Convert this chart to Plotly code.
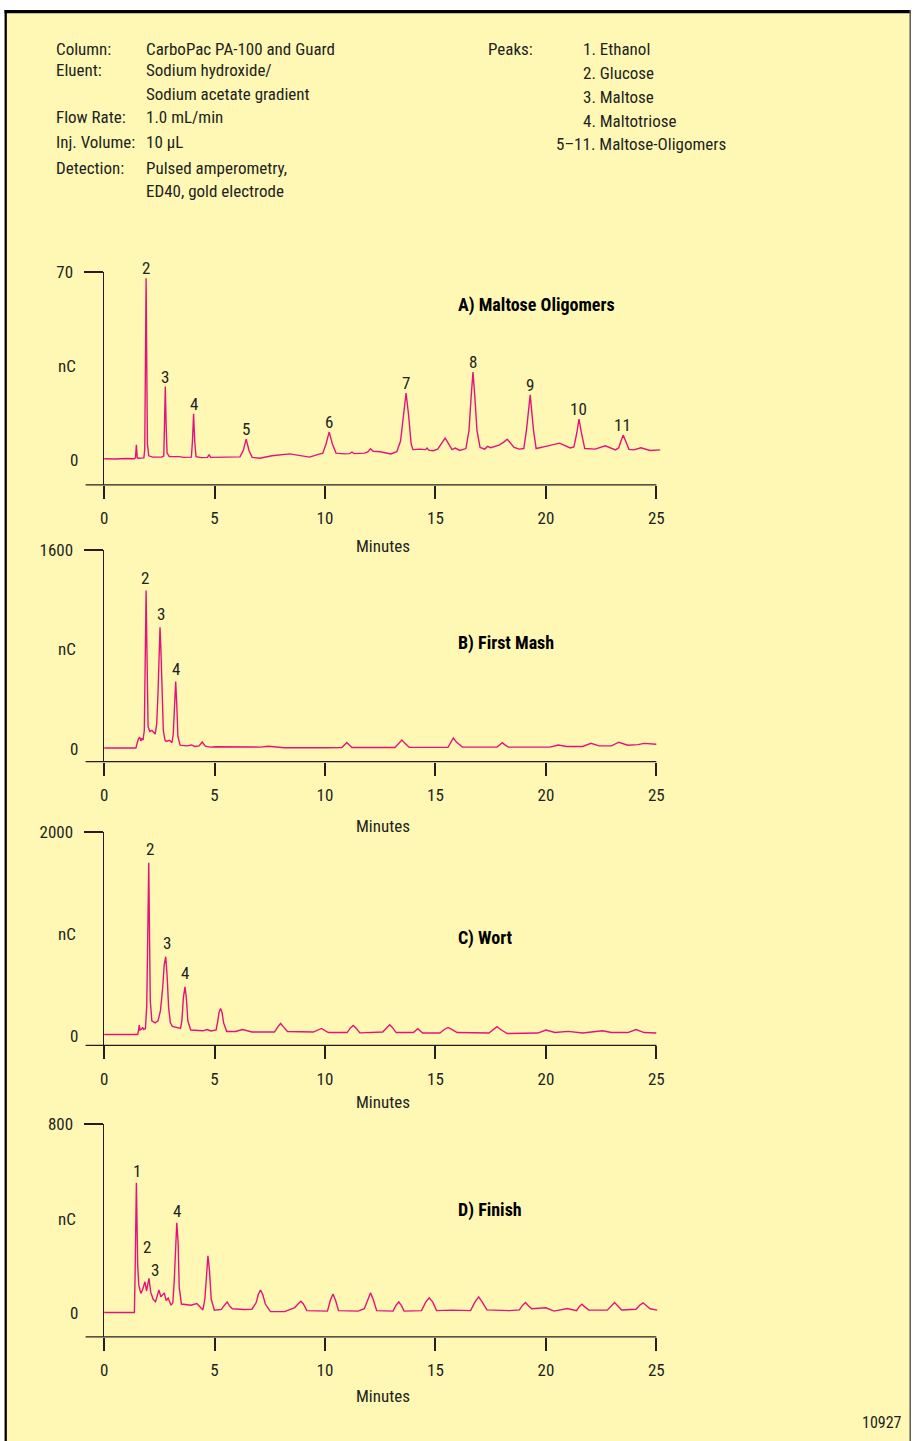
import plotly.graph_objects as go

W, H = 915, 1441
FONT = "Liberation Sans Narrow, Arial Narrow, Roboto Condensed, DejaVu Sans Condensed, Liberation Sans, sans-serif"
INK = "#231F20"
TRACE = "#E4137B"
BG = "#FFF8B5"

# ---------------- data ----------------
x_ticks = [0, 5, 10, 15, 20, 25]

A_min = [0, 0.5, 1.0, 1.37, 1.42, 1.46, 1.50, 1.56, 1.80, 1.84, 1.87, 1.90, 1.93, 1.96, 2.02, 2.2, 2.6, 2.70, 2.73,
         2.77, 2.81, 2.85, 2.95, 3.4, 3.6, 3.95, 4.00, 4.05, 4.10, 4.16, 4.4, 4.68, 4.75, 4.82, 5.5, 6.15, 6.30, 6.43,
         6.56, 6.70, 7.05, 7.6, 8.4, 8.9, 9.3, 9.7, 9.90, 10.05, 10.19, 10.33, 10.50, 10.9, 11.12, 11.22, 11.32, 11.8,
         11.95, 12.06, 12.18, 12.5, 12.98, 13.25, 13.42, 13.56, 13.67, 13.78, 13.90, 13.98, 14.3, 14.55, 14.62, 14.70,
         14.9, 15.1, 15.3, 15.44, 15.58, 15.75, 15.9, 16.1, 16.38, 16.52, 16.62, 16.70, 16.78, 16.88, 17.02, 17.23,
         17.36, 17.5, 17.88, 18.08, 18.25, 18.42, 18.56, 18.8, 19.0, 19.12, 19.29, 19.44, 19.56, 20.0, 20.62, 21.1,
         21.27, 21.40, 21.50, 21.61, 21.76, 22.23, 22.69, 23.15, 23.30, 23.40, 23.50, 23.61, 23.76, 23.98, 24.3,
         24.72, 25.18]
A_nC = [0.4, 0.3, 0.5, 0.4, 0.8, 5.6, 0.8, 0.6, 0.7, 4, 36, 67.7, 36, 6, 1.5, 1.0, 1.0, 1.4, 12,
        27.3, 12, 2.5, 1.2, 1.2, 0.9, 1.0, 7, 17.2, 7, 1.2, 0.8, 0.9, 1.9, 0.9, 1.0, 1.1, 3.5, 7.7,
        3.5, 0.9, 0.6, 1.5, 2.2, 1.5, 1.0, 2.0, 2.5, 6, 10.4, 6, 2.5, 2.2, 2.3, 2.9, 2.3, 2.5,
        3.0, 4.1, 3.2, 3.0, 2.2, 3.0, 7, 17, 24.9, 17, 6, 3.8, 4.0, 3.8, 4.4, 3.6,
        3.4, 4.0, 6.5, 8.1, 6.2, 3.8, 4.4, 3.5, 4.2, 11, 24, 32.7, 24, 11, 4.6, 4.0,
        5.0, 4.5, 5.5, 6.5, 7.7, 6.0, 4.6, 4.0, 4.2, 11, 24.2, 11, 4.2, 5.0, 6.2, 4.4,
        4.8, 10, 15.2, 10, 4.2, 4.0, 5.2, 3.7, 4.5, 7, 9.2, 7, 3.9, 3.7, 4.5,
        3.5, 3.7]

B_min = [0, 1.44, 1.50, 1.55, 1.61, 1.66, 1.71, 1.76, 1.82, 1.85, 1.88, 1.90, 1.92, 1.95, 1.99, 2.07, 2.16, 2.31,
         2.38, 2.44, 2.49, 2.53, 2.57, 2.62, 2.68, 2.75, 2.81, 2.96, 3.07, 3.13, 3.18, 3.24, 3.29, 3.34, 3.44, 3.74,
         3.96, 4.10, 4.30, 4.44, 4.58, 4.80, 5.03, 6.32, 7.1, 7.43, 7.8, 8.17, 10.02, 10.76, 10.9, 10.98, 11.08,
         11.22, 13.17, 13.32, 13.48, 13.62, 13.81, 15.57, 15.70, 15.81, 15.95, 16.22, 17.79, 17.93, 18.03, 18.13,
         18.30, 20.19, 20.56, 20.93, 21.67, 22.04, 22.41, 22.97, 23.3, 23.71, 24.17, 24.45, 25.0]
B_nC = [8, 8, 50, 80, 94, 65, 85, 70, 150, 500, 1000, 1273, 1000, 500, 180, 140, 150, 120,
        200, 450, 800, 978, 800, 400, 150, 75, 60, 70, 50, 120, 350, 541, 350, 100, 30, 25,
        32, 20, 25, 56, 22, 15, 18, 13, 15, 22, 15, 10, 10, 12, 35, 51, 35,
        12, 12, 45, 72, 45, 14, 13, 60, 88, 55, 15, 15, 38, 51, 35,
        15, 15, 32, 20, 20, 45, 25, 25, 54, 30, 35, 45, 38]

C_min = [0, 1.52, 1.56, 1.59, 1.63, 1.70, 1.74, 1.79, 1.87, 1.93, 1.97, 2.02, 2.06, 2.09, 2.16, 2.31, 2.44, 2.55,
         2.65, 2.72, 2.79, 2.85, 2.92, 3.0, 3.09, 3.46, 3.52, 3.59, 3.66, 3.72, 3.79, 3.92, 4.47, 4.66, 4.84, 5.07,
         5.14, 5.20, 5.27, 5.34, 5.41, 5.55, 5.95, 6.27, 6.69, 7.71, 7.88, 7.99, 8.10, 8.30, 9.47, 9.84, 10.15,
         11.0, 11.15, 11.28, 11.40, 11.58, 12.61, 12.80, 12.93, 13.05, 13.22, 14.0, 14.2, 14.42, 15.2, 15.40, 15.57,
         15.74, 15.98, 17.42, 17.65, 17.79, 17.95, 18.25, 19.64, 20.0, 20.41, 21.0, 21.67, 22.56, 22.97, 23.71,
         24.08, 24.45, 25.0]
C_nC = [16, 16, 60, 108, 60, 70, 85, 65, 75, 300, 900, 1702, 900, 350, 150, 130, 150, 250,
        470, 700, 779, 600, 280, 130, 95, 75, 150, 380, 484, 380, 150, 60, 52, 65, 50, 60,
        140, 230, 272, 230, 130, 45, 45, 65, 40, 40, 95, 124, 95, 45, 40, 75, 35,
        35, 80, 105, 80, 32, 40, 85, 111, 85, 35, 35, 72, 30, 30, 65, 85,
        65, 35, 30, 70, 92, 65, 25, 30, 59, 35, 46, 30, 52, 35, 35,
        65, 35, 30]

D_min = [0, 1.37, 1.40, 1.43, 1.46, 1.49, 1.52, 1.57, 1.66, 1.74, 1.85, 1.92, 2.03, 2.11, 2.22, 2.33, 2.48, 2.57,
         2.72, 2.81, 2.90, 3.03, 3.11, 3.17, 3.23, 3.29, 3.35, 3.40, 3.50, 3.92, 4.2, 4.47, 4.56, 4.63, 4.70, 4.77,
         4.85, 4.99, 5.31, 5.45, 5.57, 5.69, 5.81, 6.32, 6.69, 6.88, 6.98, 7.08, 7.18, 7.30, 7.53, 8.17, 8.63, 8.80,
         8.91, 9.02, 9.18, 10.11, 10.24, 10.36, 10.48, 10.61, 11.50, 11.78, 11.94, 12.06, 12.18, 12.34, 13.08, 13.22,
         13.34, 13.46, 13.58, 14.37, 14.56, 14.72, 14.88, 15.05, 15.75, 16.59, 16.80, 16.96, 17.12, 17.33, 18.34,
         18.8, 18.95, 19.08, 19.22, 19.36, 20.0, 20.37, 20.97, 21.39, 21.52, 21.63, 21.76, 21.95, 22.78, 22.98,
         23.11, 23.26, 23.43, 24.08, 24.26, 24.4, 24.56, 24.72, 25.04]
D_nC = [4, 4, 150, 400, 552, 380, 200, 120, 85, 100, 134, 95, 148, 90, 60, 50, 99, 70,
        87, 55, 65, 35, 45, 130, 300, 383, 300, 110, 40, 35, 42, 15, 60, 180, 244, 180,
        60, 14, 17, 35, 49, 30, 20, 17, 18, 45, 80, 99, 80, 40, 8, 8, 25, 42,
        52, 40, 12, 10, 55, 82, 55, 12, 10, 20, 60, 87, 60, 12, 10, 35,
        49, 33, 10, 12, 48, 66, 48, 12, 14, 12, 50, 70, 48, 15, 12,
        15, 35, 46, 32, 20, 24, 10, 21, 12, 30, 39, 28, 14, 14, 36,
        46, 32, 15, 18, 36, 45, 33, 20, 14]

A_labels = ["2", "3", "4", "5", "6", "7", "8", "9", "10", "11"]
A_label_min = [1.90, 2.77, 4.05, 6.43, 10.19, 13.67, 16.70, 19.29, 21.48, 23.48]
A_label_nC = [67.7, 27.3, 17.2, 7.7, 10.4, 24.9, 32.7, 24.2, 15.2, 9.2]
B_labels = ["2", "3", "4"]
B_label_min = [1.86, 2.57, 3.27]
B_label_nC = [1273, 978, 541]
C_labels = ["2", "3", "4"]
C_label_min = [2.08, 2.85, 3.66]
C_label_nC = [1702, 779, 484]
D_labels = ["1", "2", "3", "4"]
D_label_min = [1.48, 1.94, 2.31, 3.29]
D_label_nC = [552, 230, 135, 383]

titles = ["A) Maltose Oligomers", "B) First Mash", "C) Wort", "D) Finish"]
y_tops = [70, 1600, 2000, 800]

header_left = [("Column:", 49), ("Eluent:", 70.5), ("Flow Rate:", 117.5), ("Inj. Volume:", 142.5), ("Detection:", 168)]
header_vals = [("CarboPac PA-100 and Guard", 49), ("Sodium hydroxide/", 70.5), ("Sodium acetate gradient", 94),
               ("1.0 mL/min", 117.5), ("10 µL", 142.5), ("Pulsed amperometry,", 168), ("ED40, gold electrode", 191.7)]
peak_list = [("1. Ethanol", 581, 49.3), ("2. Glucose", 581, 73.3), ("3. Maltose", 581, 97.3),
             ("4. Maltotriose", 581, 121), ("5–11. Maltose-Oligomers", 554, 144.3)]

# ---------------- layout geometry (pixels of the target picture) ----------------
# the photographed page shows up slightly inset; positions are pre-compensated for that
OX, OY, SX, SY = 4.5, 10.4, 0.990, 0.9926


def fx(p):
    return min(max((p - OX) / SX, 0.0), W) / W


def fy(p):
    return 1 - min(max((p - OY) / SY, 0.0), H) / H


X_LEFT, X_RIGHT = 104.5, 660.4      # x-axis domain (0 .. 25.2 min)
X_MAX = 25.2
AXIS_L, AXIS_R = 86, 656            # drawn x-axis line extent
panel_top_px = [272.3, 550, 832.3, 1124]
panel_axis_px = [485, 761.7, 1045.3, 1336.7]
panel_ymin = [-9.32, -102, -91, -99]
title_y_px = [305.7, 642.7, 937.7, 1210]
minutes_y_px = [546, 826, 1101.7, 1396]
label_shift = [10, 13, 13.5, 12]

series = [(A_min, A_nC), (B_min, B_nC), (C_min, C_nC), (D_min, D_nC)]
labels = [(A_labels, A_label_min, A_label_nC), (B_labels, B_label_min, B_label_nC),
          (C_labels, C_label_min, C_label_nC), (D_labels, D_label_min, D_label_nC)]

fig = go.Figure()
annotations = []
shapes = []

# page background + border
shapes.append(dict(type="rect", xref="paper", yref="paper", x0=fx(6), x1=1, y0=0, y1=1,
                   fillcolor=BG, line=dict(width=0), layer="below"))
shapes.append(dict(type="line", xref="paper", yref="paper", x0=fx(5), x1=1, y0=1 - 1.6 / H, y1=1 - 1.6 / H,
                   line=dict(color="#000000", width=3.2), layer="above"))
shapes.append(dict(type="line", xref="paper", yref="paper", x0=fx(6.2), x1=fx(6.2), y0=0, y1=1,
                   line=dict(color="#000000", width=2.3), layer="above"))
shapes.append(dict(type="line", xref="paper", yref="paper", x0=1 - 0.8 / W, x1=1 - 0.8 / W, y0=0, y1=1,
                   line=dict(color="#5a5a5a", width=1.5), layer="above"))

text_font = dict(family=FONT, size=17, color=INK)

for i in range(4):
    sx = "" if i == 0 else str(i + 1)
    xname, yname = "x" + sx, "y" + sx
    t, v = series[i]
    fig.add_trace(go.Scatter(x=t, y=v, mode="lines", line=dict(color=TRACE, width=1.4),
                             xaxis=xname, yaxis=yname, hoverinfo="skip", showlegend=False))
    fig.update_layout(**{
        "xaxis" + sx: dict(domain=[fx(X_LEFT), fx(X_RIGHT)], range=[0, X_MAX], anchor=yname,
                           tickmode="array", tickvals=x_ticks, ticktext=[str(k) for k in x_ticks],
                           ticks="outside", ticklen=13, tickwidth=1.8, tickcolor=INK,
                           showline=False, showgrid=False, zeroline=False,
                           tickfont=dict(family=FONT, size=17, color=INK), ticklabelstandoff=5,
                           fixedrange=True),
        "yaxis" + sx: dict(domain=[fy(panel_axis_px[i]), fy(panel_top_px[i])],
                           range=[panel_ymin[i], y_tops[i]], anchor=xname,
                           tickmode="array", tickvals=[y_tops[i]], ticktext=[str(y_tops[i])],
                           ticks="outside", ticklen=18.5, tickwidth=1.8, tickcolor=INK,
                           showline=True, linecolor=INK, linewidth=1.3,
                           showgrid=False, zeroline=False,
                           tickfont=dict(family=FONT, size=17, color=INK), ticklabelstandoff=8,
                           fixedrange=True),
    })
    # x axis line (extends left of the y axis)
    shapes.append(dict(type="line", xref="paper", yref="paper", x0=fx(AXIS_L), x1=fx(AXIS_R),
                       y0=fy(panel_axis_px[i]), y1=fy(panel_axis_px[i]),
                       line=dict(color=INK, width=1.3)))
    # "0" label and nC
    annotations.append(dict(text="0", xref="paper", yref=yname, x=fx(80), y=0, xanchor="right",
                            yanchor="middle", showarrow=False, font=text_font))
    annotations.append(dict(text="nC", xref="paper", yref=yname, x=fx(67.8), y=y_tops[i] * 0.5,
                            xanchor="center", yanchor="middle", showarrow=False, font=text_font))
    # Minutes
    annotations.append(dict(text="Minutes", xref="paper", yref="paper", x=fx(383.5), y=fy(minutes_y_px[i]),
                            xanchor="center", yanchor="middle", showarrow=False, font=text_font))
    # panel title
    annotations.append(dict(text="<b>" + titles[i] + "</b>", xref="paper", yref="paper", x=fx(455.5),
                            y=fy(title_y_px[i]), xanchor="left", yanchor="middle", showarrow=False,
                            font=dict(family=FONT, size=18, color="#000000")))
    # peak labels
    lt, lx, ly = labels[i]
    for txt, xx, yy in zip(lt, lx, ly):
        annotations.append(dict(text=txt, xref=xname, yref=yname, x=xx, y=yy, xanchor="center",
                                yanchor="middle", yshift=label_shift[i], showarrow=False, font=text_font))

# header
for txt, y in header_left:
    annotations.append(dict(text=txt, xref="paper", yref="paper", x=fx(54), y=fy(y), xanchor="left",
                            yanchor="middle", showarrow=False, font=text_font))
for txt, y in header_vals:
    annotations.append(dict(text=txt, xref="paper", yref="paper", x=fx(144), y=fy(y), xanchor="left",
                            yanchor="middle", showarrow=False, font=text_font))
annotations.append(dict(text="Peaks:", xref="paper", yref="paper", x=fx(486), y=fy(49.3), xanchor="left",
                        yanchor="middle", showarrow=False, font=text_font))
for txt, x, y in peak_list:
    annotations.append(dict(text=txt, xref="paper", yref="paper", x=fx(x), y=fy(y), xanchor="left",
                            yanchor="middle", showarrow=False, font=text_font))
annotations.append(dict(text="10927", xref="paper", yref="paper", x=fx(903), y=fy(1422.7), xanchor="right",
                        yanchor="middle", showarrow=False, font=dict(family=FONT, size=16, color=INK)))

fig.update_layout(width=W, height=H, autosize=False, margin=dict(l=0, r=0, t=0, b=0, pad=0),
                  paper_bgcolor="#FFFFFF", plot_bgcolor="rgba(0,0,0,0)",
                  font=dict(family=FONT, size=17, color=INK),
                  shapes=shapes, annotations=annotations, showlegend=False)

page_css = ("document.documentElement.style.margin='0';document.documentElement.style.padding='0';"
            "document.documentElement.style.overflow='hidden';"
            "document.body.style.margin='0';document.body.style.padding='0';document.body.style.overflow='hidden';"
            "var gd=document.getElementById('{plot_id}');gd.style.position='fixed';gd.style.left='0px';"
            "gd.style.top='0px';")
fig.write_html("out.html", config={"displayModeBar": False}, post_script=page_css)
